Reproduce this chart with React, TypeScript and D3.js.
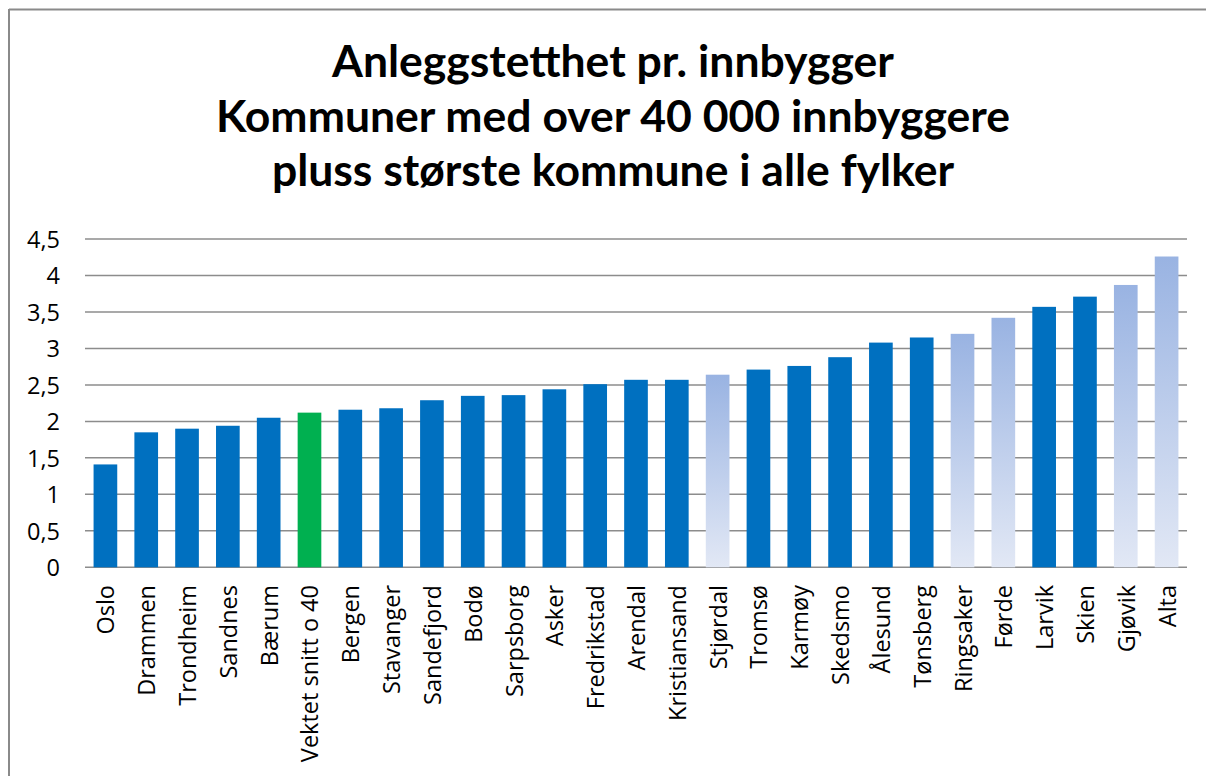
import * as d3 from "d3";

const kommuner = [
  "Oslo", "Drammen", "Trondheim", "Sandnes", "Bærum", "Vektet snitt o 40",
  "Bergen", "Stavanger", "Sandefjord", "Bodø", "Sarpsborg", "Asker",
  "Fredrikstad", "Arendal", "Kristiansand", "Stjørdal", "Tromsø", "Karmøy",
  "Skedsmo", "Ålesund", "Tønsberg", "Ringsaker", "Førde", "Larvik",
  "Skien", "Gjøvik", "Alta",
];

const tetthet = [
  1.41, 1.85, 1.9, 1.94, 2.05, 2.12,
  2.16, 2.18, 2.29, 2.35, 2.36, 2.44,
  2.51, 2.57, 2.57, 2.64, 2.71, 2.76,
  2.88, 3.08, 3.15, 3.2, 3.42, 3.57,
  3.71, 3.87, 4.26,
];

// største kommune i fylket (under 40 000)
const storsteIFylket = ["Stjørdal", "Ringsaker", "Førde", "Gjøvik", "Alta"];
const snitt = "Vektet snitt o 40";

const yTicks = [0, 0.5, 1, 1.5, 2, 2.5, 3, 3.5, 4, 4.5];

const tittel = [
  "Anleggstetthet pr. innbygger",
  "Kommuner med over 40 000 innbyggere",
  "pluss største kommune i alle fylker",
];

const W = 1206;
const H = 776;
const plot = { left: 85, right: 1187, top: 239, bottom: 567.3 };

export default function App() {
  const x = d3
    .scaleBand<string>()
    .domain(kommuner)
    .range([plot.left, plot.right])
    .paddingInner(0.42)
    .paddingOuter(0.21);

  const y = d3.scaleLinear().domain([0, 4.5]).range([plot.bottom, plot.top]);

  const fmt = (v: number) => String(v).replace(".", ",");

  const fill = (k: string) => {
    if (k === snitt) return "#00B050";
    if (storsteIFylket.includes(k)) return "url(#lys)";
    return "#0070C0";
  };

  return (
    <svg
      width={W}
      height={H}
      viewBox={`0 0 ${W} ${H}`}
      style={{ position: "absolute", left: 0, top: 0, background: "#fff" }}
    >
      <defs>
        <linearGradient id="lys" x1="0" y1="0" x2="0" y2="1">
          <stop offset="0%" stopColor="#99B3E2" />
          <stop offset="100%" stopColor="#E2E8F5" />
        </linearGradient>
      </defs>

      <line x1={9} x2={W} y1={9.5} y2={9.5} stroke="#8a8a8a" strokeWidth={2} />
      <line x1={9} x2={9} y1={9} y2={H} stroke="#8a8a8a" strokeWidth={2} />

      <g fontFamily="Lato, 'DejaVu Sans', sans-serif" fontWeight="bold" fontSize={44.5} textAnchor="middle" fill="#000">
        {tittel.map((t, i) => (
          <text key={t} x={613} y={77 + i * 54.5}>
            {t}
          </text>
        ))}
      </g>

      <g>
        {yTicks.map((t) => (
          <g key={t}>
            <line
              x1={plot.left}
              x2={plot.right}
              y1={y(t)}
              y2={y(t)}
              stroke="#8c8c8c"
              strokeWidth={1.5}
            />
            <text
              x={60}
              y={y(t)}
              textAnchor="end"
              dominantBaseline="central"
              fontFamily="'Open Sans', sans-serif"
              fontSize={23.5}
              fill="#000"
            >
              {fmt(t)}
            </text>
          </g>
        ))}
      </g>

      <g>
        {kommuner.map((k, i) => (
          <rect
            key={k}
            x={x(k)}
            y={y(tetthet[i])}
            width={x.bandwidth()}
            height={y(0) - y(tetthet[i])}
            fill={fill(k)}
          />
        ))}
      </g>

      <g fontFamily="'Open Sans', sans-serif" fontSize={23.5} fill="#000">
        {kommuner.map((k) => {
          const cx = (x(k) ?? 0) + x.bandwidth() / 2;
          return (
            <text
              key={k}
              transform={`translate(${cx},585) rotate(-90)`}
              textAnchor="end"
              dominantBaseline="central"
            >
              {k}
            </text>
          );
        })}
      </g>
    </svg>
  );
}
